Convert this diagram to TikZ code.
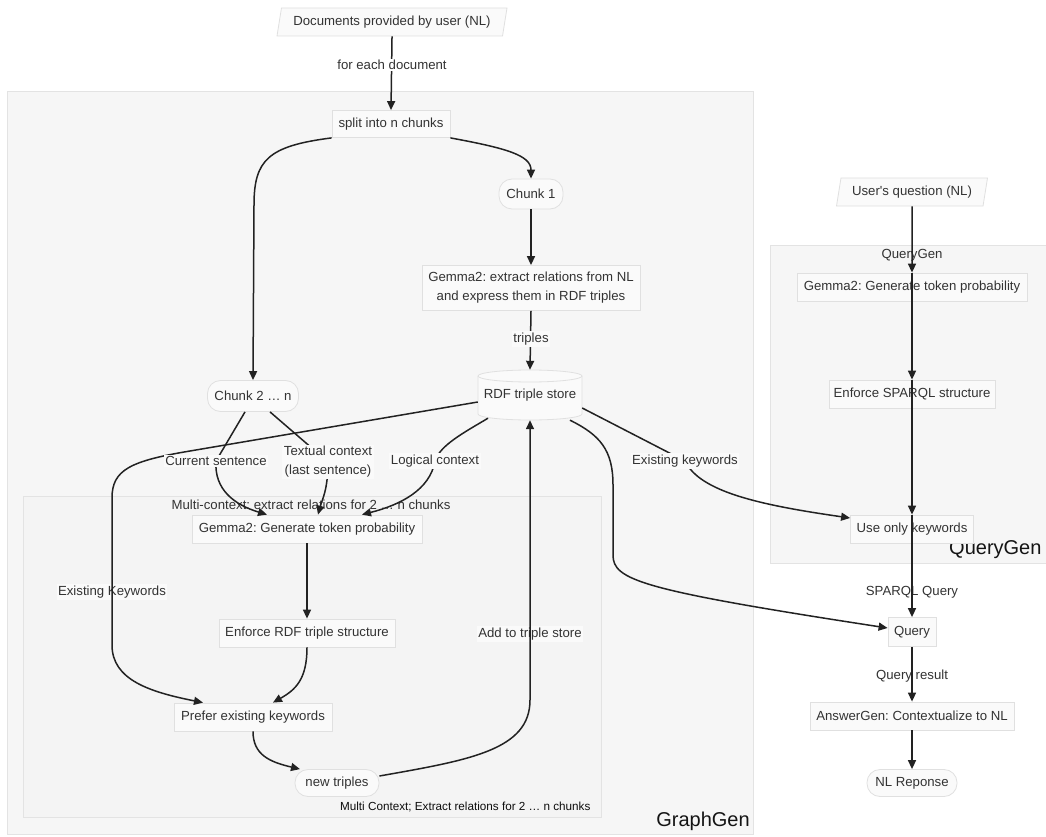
\documentclass[tikz,border=0pt]{standalone}
\usepackage{fontspec}
\setmainfont{Liberation Sans}
\usetikzlibrary{arrows.meta,shapes.geometric}
\definecolor{txt}{HTML}{333333}
\definecolor{edgec}{HTML}{222222}
\definecolor{nfill}{HTML}{FAFAFA}
\definecolor{nborder}{HTML}{E0E0E0}
\definecolor{cfill}{HTML}{F6F6F6}
\definecolor{cborder}{HTML}{E3E3E3}
\definecolor{mfill}{HTML}{F4F4F4}
\definecolor{lblfill}{HTML}{FAFAFA}
\frenchspacing
\begin{document}
\begin{tikzpicture}[x=1pt,y=-1pt,
  base/.style={font=\fontsize{13.2}{19}\selectfont, text=txt},
  box/.style={base, draw=nborder, fill=nfill, line width=0.8pt, inner sep=0pt, minimum height=28pt, align=center},
  rbox/.style={box, rounded corners=13pt},
  para/.style={box, trapezium, trapezium left angle=70, trapezium right angle=110, trapezium stretches body},
  cluster/.style={draw=cborder, fill=cfill, line width=0.8pt},
  lbl/.style={base, fill=lblfill, inner sep=1.5pt, align=center},
  big/.style={font=\fontsize{20}{24}\selectfont, text=black!92},
  small/.style={font=\fontsize{11.7}{14}\selectfont, text=black!95},
  edge/.style={draw=edgec, line width=1.5pt, -{Triangle[length=9pt,width=8pt]}},
]
\useasboundingbox (0,0) rectangle (1046,837);
\fill[white] (0,0) rectangle (1046,837);

% clusters
\draw[cluster] (7,91) rectangle (753,834);
\draw[cluster, fill=mfill] (23,496) rectangle (601,817);
\draw[cluster] (770,245) rectangle (1070,563);
\node[base] (mctitle) at (311,505) {Multi-context: extract relations for 2 … n chunks};
\node[small, anchor=east] (mcfoot) at (594,807) {Multi Context; Extract relations for 2 … n chunks};
\node[big] (ggtitle) at (703,821) {GraphGen};
\node[base] (qgtitle) at (912,255) {QueryGen};
\node[big, anchor=east] (qgfoot) at (1045,550) {QueryGen};

% cylinder body for RDF triple store
\path[draw=nborder, fill=nfill, line width=0.8pt] (478,376) -- (478,414) arc (180:360:52pt and 6pt) -- (582,376) arc (0:180:52pt and 6pt) -- cycle;
\draw[nborder, line width=0.8pt] (478,376) arc (180:360:52pt and 6pt);

% nodes
\node[para, minimum width=230pt] (docs) at (392,22) {Documents provided by user (NL)};
\node[box, minimum width=118pt, minimum height=27pt] (split) at (391,124) {split into n chunks};
\node[rbox, minimum width=64pt, minimum height=30pt] (chunk1) at (531,194) {Chunk 1};
\node[box, minimum width=218pt, minimum height=45pt] (gex) at (531,288) {Gemma2: extract relations from NL\\and express them in RDF triples};
\node[base, inner sep=0pt, minimum width=104pt, minimum height=50pt] (rdf) at (530,395) {RDF triple store};
\node[rbox, minimum width=91pt, minimum height=31pt] (chunk2) at (253,396) {Chunk 2 … n};
\node[box, minimum width=230pt] (gtp) at (307,529) {Gemma2: Generate token probability};
\node[box, minimum width=176pt] (enf) at (307,633) {Enforce RDF triple structure};
\node[box, minimum width=158pt] (pref) at (253,717) {Prefer existing keywords};
\node[rbox, minimum width=84pt, minimum height=27pt] (newt) at (337,783) {new triples};
\node[para, minimum width=151pt] (uq) at (912,192) {User\textquotesingle s question (NL)};
\node[box, minimum width=230pt] (qgtp) at (912,287) {Gemma2: Generate token probability};
\node[box, minimum width=166pt] (esp) at (912,394) {Enforce SPARQL structure};
\node[box, minimum width=123pt] (uok) at (912,529) {Use only keywords};
\node[box, minimum width=48pt, minimum height=29pt] (query) at (912,632) {Query};
\node[box, minimum width=204pt] (ans) at (912,716) {AnswerGen: Contextualize to NL};
\node[rbox, minimum width=90pt, minimum height=27pt] (nlr) at (912,783) {NL Reponse};

% labels crossed by their edges
\node[lbl] (lek) at (112,592) {Existing Keywords};
\node[lbl] (lats) at (530,634) {Add to triple store};
\node[lbl, fill=white] (lsq) at (912,592) {SPARQL Query};
\node[lbl, fill=white] (lqr) at (912,676) {Query result};

% label positions for covering labels
\coordinate (cfe) at (392,65);
\coordinate (ctr) at (531,339);
\coordinate (ccs) at (216,461);
\coordinate (ctc) at (328,462);
\coordinate (clc) at (435,461);
\coordinate (cek) at (685,461);

% edges GraphGen
\draw[edge] (docs.south) -- (split.north);
\draw[edge] (split.south west) .. controls (268,146) and (254,160) .. (254,205) -- (chunk2.north);
\draw[edge] (split.south east) .. controls (505,148) and (531,155) .. (chunk1.north);
\draw[edge] (chunk1) -- (gex);
\draw[edge] (gex.south) -- (rdf.north);
\draw[edge] ([yshift=-7pt]rdf.west) -- (190,451) .. controls (130,461) and (112,470) .. (112,498) -- (lek.center) -- (112,645) .. controls (112,680) and (150,692) .. ([xshift=-50pt]pref.north);
\draw[edge] ([xshift=-8pt]chunk2.south) -- (ccs) .. controls (214,490) and (235,505) .. ([xshift=-40pt]gtp.north);
\draw[edge] ([xshift=17pt]chunk2.south) -- (ctc) .. controls (328,490) and (322,500) .. ([xshift=11pt]gtp.north);
\draw[edge] ([xshift=-42pt,yshift=2pt]rdf.south) .. controls (465,432) and (440,445) .. (clc) .. controls (430,490) and (400,505) .. ([xshift=55pt]gtp.north);
\draw[edge] (gtp) -- (enf);
\draw[edge] (enf.south) .. controls (307,680) and (295,690) .. ([xshift=20pt]pref.north);
\draw[edge] (pref.south) .. controls (253,755) and (270,762) .. ([xshift=-37pt]newt.north);
\draw[edge] ([yshift=7pt]newt.east) .. controls (470,760) and (530,750) .. (530,700) -- (lats.center) -- (rdf.south);
\draw[edge] ([yshift=-13pt]rdf.east) -- (cek) .. controls (700,492) and (760,505) .. ([yshift=11pt]uok.west);
\draw[edge] ([xshift=40pt]rdf.south) .. controls (600,435) and (613,450) .. (613,485) -- (613,555) .. controls (613,580) and (640,590) .. ([yshift=4pt]query.west);

% edges QueryGen
\draw[edge] (uq.south) -- (qgtp.north);
\draw[edge] (qgtp.north) -- (esp.north);
\draw[edge] (esp.north) -- (uok.north);
\draw[edge] (uok.north) -- (lsq.center) -- (query.north);
\draw[edge] (query.south) -- (lqr.center) -- (ans.north);
\draw[edge] (ans.south) -- (nlr.north);

% covering labels
\node[lbl, fill=white] (lfe) at (cfe) {for each document};
\node[lbl] (ltr) at (ctr) {triples};
\node[lbl] (lcs) at (ccs) {Current sentence};
\node[lbl] (ltc) at (ctc) {Textual context\\(last sentence)};
\node[lbl] (llc) at (clc) {Logical context};
\node[lbl] (lek2) at (cek) {Existing keywords};
\end{tikzpicture}
\end{document}
